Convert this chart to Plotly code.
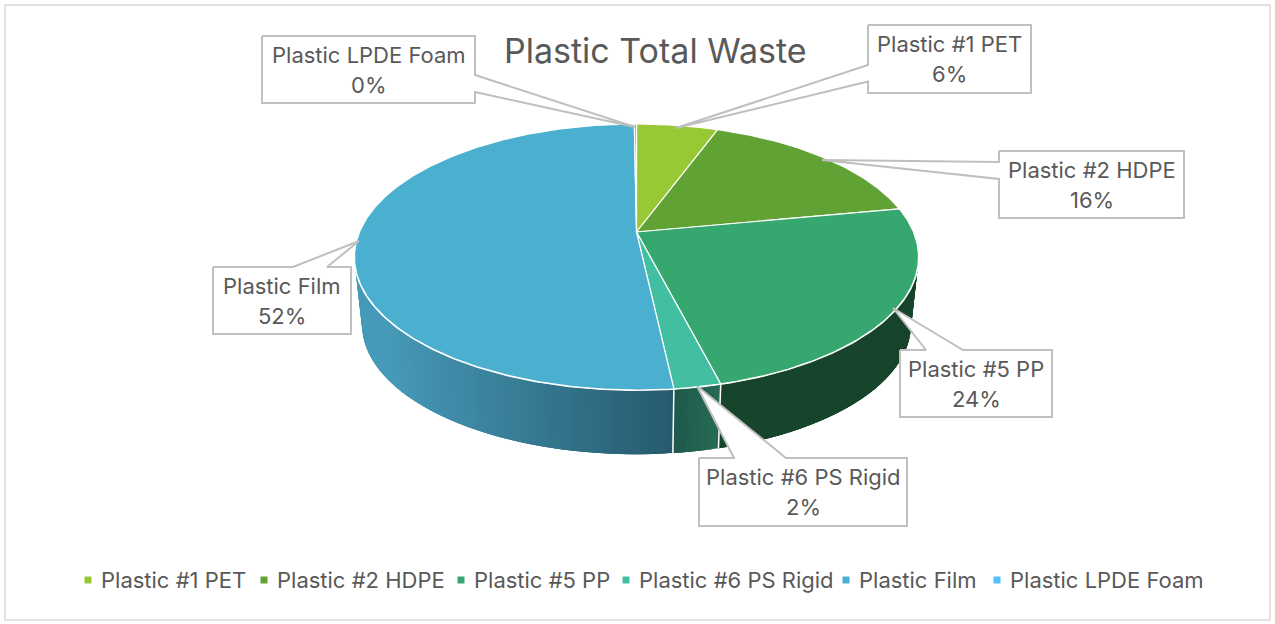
import math
import plotly.graph_objects as go

# ---- data ----
categories = ["Plastic #1 PET", "Plastic #2 HDPE", "Plastic #5 PP",
              "Plastic #6 PS Rigid", "Plastic Film", "Plastic LPDE Foam"]
shares = [5.6, 16.4, 24.0, 2.25, 51.6, 0.15]
slice_colors = ["#97C934", "#60A334", "#36A76F", "#42BFA0", "#4BB0CF", "#4DC1FA"]
title_text = "Plastic Total Waste"

# ---- layout constants (pixels) ----
W, H = 1275, 624
CX, CY = 636.5, 232.0
A, B, C = 128.3, 0.188, 277.0
BOTTOM_SCALE, BOTTOM_CY = 0.973, 300.5
TXT = "#595959"
EDGE = "#BFBFBF"
FONT = "Inter"
LABEL_SIZE = 22
LINE_GAP = 15

boxes = [
    dict(l=868, t=25, r=1031, b=93, wedge=[(868, 65), (676, 128), (868, 81.5)]),
    dict(l=999, t=151, r=1184, b=218, wedge=[(999, 162), (822, 160), (999, 179)]),
    dict(l=900, t=350, r=1052, b=417, wedge=[(926, 350), (893, 308), (963, 350)]),
    dict(l=699, t=458, r=907, b=526, wedge=[(734, 458), (697, 386), (786, 458)]),
    dict(l=213, t=267, r=351, b=334, wedge=[(293, 267), (359, 241), (327, 267)]),
    dict(l=262, t=36, r=475, b=103, wedge=[(475, 75), (635, 127), (475, 92)]),
]
legend_marker_x = [88, 264, 461, 626, 846, 997]
legend_text_x = [99, 275, 472, 637, 857, 1008]
LEGEND_Y = 580


def top_pt(theta, scale=1.0, cy=CY):
    s, c = math.cos(theta), math.sin(theta)
    d = 1 + B * s
    return (CX + scale * C * c / d, cy - scale * A * s / d)


def bot_pt(theta):
    return top_pt(theta, BOTTOM_SCALE, BOTTOM_CY)


def arc(a0, a1, fn=top_pt, step=0.01):
    n = max(2, int(abs(a1 - a0) / step))
    return [fn(a0 + (a1 - a0) * i / n) for i in range(n + 1)]


def lerp_color(c0, c1, f):
    f = max(0.0, min(1.0, f))
    return "rgb(%d,%d,%d)" % tuple(round(c0[i] + (c1[i] - c0[i]) * f) for i in range(3))


total = sum(shares)
edges = [0.0]
for v in shares:
    edges.append(edges[-1] + v / total * 2 * math.pi)

fig = go.Figure()


def poly(pts, fill, line=None, width=1.0, name=None):
    fig.add_trace(go.Scatter(
        x=[p[0] for p in pts], y=[p[1] for p in pts], mode="lines",
        fill="toself", fillcolor=fill,
        line=dict(color=line or fill, width=width),
        hoverinfo="skip", showlegend=False, name=name))


def line(pts, color, width):
    fig.add_trace(go.Scatter(
        x=[p[0] for p in pts], y=[p[1] for p in pts], mode="lines",
        line=dict(color=color, width=width), hoverinfo="skip", showlegend=False))


# side wall, shaded strip by strip (each strip overlaps the next so no seams show)
wall_shades = {
    2: ((0x17, 0x45, 0x2B), (0x17, 0x45, 0x2B)),
    3: ((0x26, 0x6A, 0x55), (0x1D, 0x56, 0x49)),
    4: ((0x27, 0x5A, 0x6E), (0x46, 0x9A, 0xB8)),
}
for idx, (c0, c1) in wall_shades.items():
    a0, a1 = edges[idx], edges[idx + 1]
    if idx == 2:
        a0 = 1.45
    if idx == 4:
        a1 = min(a1, 4.95)
    x0, x1 = top_pt(a0)[0], bot_pt(a1)[0]
    n = max(1, int((a1 - a0) / 0.02))
    for i in range(n):
        t0 = a0 + (a1 - a0) * i / n
        t_end = min(a1, t0 + 3 * (a1 - a0) / n)
        f = (top_pt(t0)[0] - x0) / (x1 - x0) if x1 != x0 else 0
        pts = arc(t0, t_end) + [bot_pt(t_end), bot_pt(t0)]
        poly(pts, lerp_color(c0, c1, f), width=0)

# white dividers on the wall
for k in (3, 4):
    line([top_pt(edges[k]), bot_pt(edges[k])], "#FFFFFF", 1.5)

# rim highlight on the front of the disc
line(arc(1.5, 4.9), "#FFFFFF", 2)

# top face
for i, col in enumerate(slice_colors):
    pts = [(CX, CY)] + arc(edges[i], edges[i + 1]) + [(CX, CY)]
    poly(pts, col, line="#FFFFFF", width=1.2, name=categories[i])

# call-outs
for bx, name, v in zip(boxes, categories, shares):
    w = bx["wedge"]
    l, t, r, b = bx["l"], bx["t"], bx["r"], bx["b"]
    if w[0][0] == r:
        outline = [(l, t), (r, t), w[0], w[1], w[2], (r, b), (l, b), (l, t)]
    elif w[0][0] == l:
        outline = [(l, t), (r, t), (r, b), (l, b), w[2], w[1], w[0], (l, t)]
    else:
        outline = [(l, t), w[0], w[1], w[2], (r, t), (r, b), (l, b), (l, t)]
    poly(outline, "#FFFFFF", line=EDGE, width=2)
    for txt, dy in ((name, -LINE_GAP), (f"{round(v / total * 100)}%", LINE_GAP)):
        fig.add_annotation(x=(l + r) / 2, y=(t + b) / 2 + dy, xref="x", yref="y",
                           text=txt, showarrow=False,
                           font=dict(family=FONT, size=LABEL_SIZE, color=TXT), align="center")

# legend
fig.add_trace(go.Scatter(x=legend_marker_x, y=[LEGEND_Y] * 6, mode="markers",
                         marker=dict(symbol="square", size=7, color=slice_colors, line=dict(width=0)),
                         hoverinfo="skip", showlegend=False))
for name, x in zip(categories, legend_text_x):
    fig.add_annotation(x=x, y=LEGEND_Y, xref="x", yref="y", text=name, showarrow=False,
                       xanchor="left", font=dict(family=FONT, size=LABEL_SIZE, color=TXT))

fig.add_annotation(x=655, y=50, xref="x", yref="y", text=title_text, showarrow=False,
                   font=dict(family=FONT, size=34, color=TXT))

fig.add_shape(type="rect", xref="x", yref="y", x0=5, y0=5, x1=1270, y1=620,
              line=dict(color="#D9D9D9", width=1.5), layer="below")

fig.update_layout(
    width=W, height=H, margin=dict(l=0, r=0, t=0, b=0),
    paper_bgcolor="#FFFFFF", plot_bgcolor="#FFFFFF", showlegend=False,
    xaxis=dict(range=[0, W], visible=False, fixedrange=True),
    yaxis=dict(range=[H, 0], visible=False, fixedrange=True),
)
fig.write_html("out.html", config=dict(displayModeBar=False),
               post_script="document.body.style.margin='0';")
